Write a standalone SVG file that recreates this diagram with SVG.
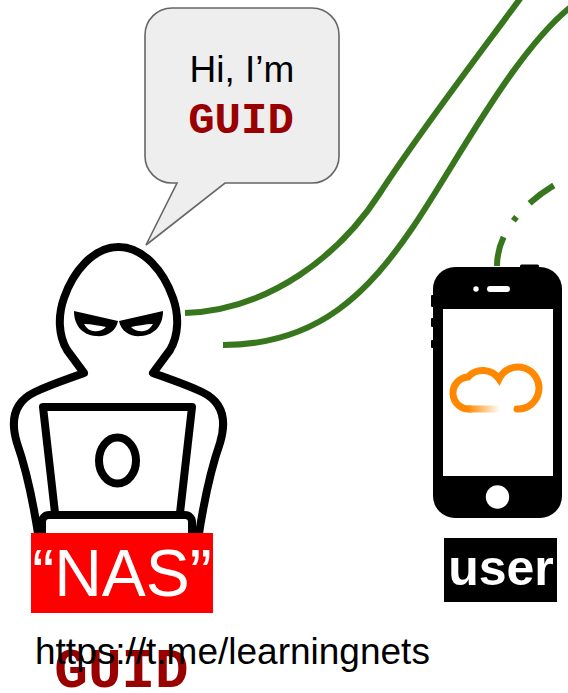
<svg xmlns="http://www.w3.org/2000/svg" width="568" height="693" viewBox="0 0 568 693">
  <style>
    .ink { fill: none; stroke: #000; stroke-width: 8; stroke-linejoin: round; stroke-linecap: round; }
    .link { fill: none; stroke: #38761d; stroke-width: 6; }
    .sans { font-family: "Liberation Sans", Arial, sans-serif; }
    .mono { font-family: "Liberation Mono", "Courier New", monospace; font-weight: bold; fill: #990000; }
  </style>
  <defs>
    <linearGradient id="cloudFade" gradientUnits="userSpaceOnUse" x1="468" y1="0" x2="500" y2="0">
      <stop offset="0" stop-color="#ff8800"/>
      <stop offset="1" stop-color="#ffffff"/>
    </linearGradient>
  </defs>

  <!-- connectors -->
  <g id="connectors">
    <path class="link" d="M 185 313 C 270 310 340 255 380 193 C 420 131 490 40 525 -8"/>
    <path class="link" d="M 223 345 C 320 345 370 290 413 227 C 456 164 520 40 580 0"/>
    <path class="link" stroke-dasharray="30 19 5 19" d="M 497 266 C 497 235 520 200 575 174"/>
  </g>

  <!-- speech bubble -->
  <g id="bubble">
    <path d="M 172 8 H 312 A 27 27 0 0 1 339 35 V 156 A 27 27 0 0 1 312 183 H 225 L 146 245 L 177 183 H 172 A 27 27 0 0 1 145 156 V 35 A 27 27 0 0 1 172 8 Z" fill="#eeeeee" stroke="#666666" stroke-width="1.6"/>
    <text class="sans" x="242" y="82" font-size="37" text-anchor="middle" fill="#000">Hi, I’m</text>
    <text class="mono" x="241" y="133" font-size="44" text-anchor="middle">GUID</text>
  </g>

  <!-- hooded figure with laptop -->
  <g id="nas">
    <path class="ink" d="M 39 540 Q 30 480 17 443 C 10 420 14 402 35 392 C 52 384 68 379 84 373 L 67 350 C 58 335 58 315 64 298 C 73 272 93 247 118.5 247 C 144 247 164 272 173 298 C 179 315 179 335 170 350 L 153 373 C 169 379 185 384 202 392 C 223 402 227 420 220 443 Q 207 480 198 540"/>
    <path d="M 74 311 L 118 321 C 116 332 106 337 96 336 C 82 335 74 325 74 311 Z" fill="#000"/>
    <path d="M 84 324 C 92 324 100 326 106 327 C 102 331 97 332 93 331 C 88 330 86 327 84 324 Z" fill="#fff"/>
    <path d="M 163 311 L 119 321 C 121 332 131 337 141 336 C 155 335 163 325 163 311 Z" fill="#000"/>
    <path d="M 153 324 C 145 324 137 326 131 327 C 135 331 140 332 144 331 C 149 330 151 327 153 324 Z" fill="#fff"/>
    <path class="ink" d="M 55 513 L 43 407 H 192 L 180 513"/>
    <ellipse class="ink" cx="117.5" cy="460.5" rx="18.5" ry="23"/>
    <rect x="42" y="515" width="150" height="40" rx="7" fill="#fff" stroke="#000" stroke-width="8"/>
    <rect x="31" y="533" width="182" height="80" fill="#ff0000"/>
    <text class="sans" x="122" y="596" font-size="66" text-anchor="middle" fill="#fff">“NAS”</text>
  </g>

  <!-- phone -->
  <g id="user">
    <rect x="520" y="264.5" width="19" height="4" rx="1.5" fill="#000"/>
    <rect x="431" y="295" width="4" height="12" rx="1" fill="#000"/>
    <rect x="431" y="318" width="4" height="9" rx="1" fill="#000"/>
    <rect x="431" y="340" width="4" height="8" rx="1" fill="#000"/>
    <rect x="433" y="267" width="129" height="251" rx="22" fill="#000"/>
    <rect x="443" y="309" width="110" height="167" fill="#fff"/>
    <circle cx="476" cy="289" r="2.7" fill="#fff"/>
    <rect x="487" y="286" width="23" height="6" rx="3" fill="#fff"/>
    <circle cx="497.5" cy="497" r="11.7" fill="#fff"/>
    <path d="M 470 409 A 16 16 0 0 1 468 377 A 20 20 0 0 1 499 379 A 21 21 0 1 1 517 409" fill="none" stroke="#ff8800" stroke-width="7" stroke-linecap="round"/>
    <path d="M 470 409 H 499" fill="none" stroke="url(#cloudFade)" stroke-width="7" stroke-linecap="round"/>
    <rect x="444" y="538" width="113" height="64" fill="#000"/>
    <text class="sans" x="501" y="585" font-size="50" font-weight="bold" text-anchor="middle" fill="#fff">user</text>
  </g>

  <!-- footer texts -->
  <text class="mono" x="121.5" y="687" font-size="56" text-anchor="middle">GUID</text>
  <text class="sans" x="35" y="664" font-size="37" fill="#000">https://t.me/learningnets</text>
</svg>
